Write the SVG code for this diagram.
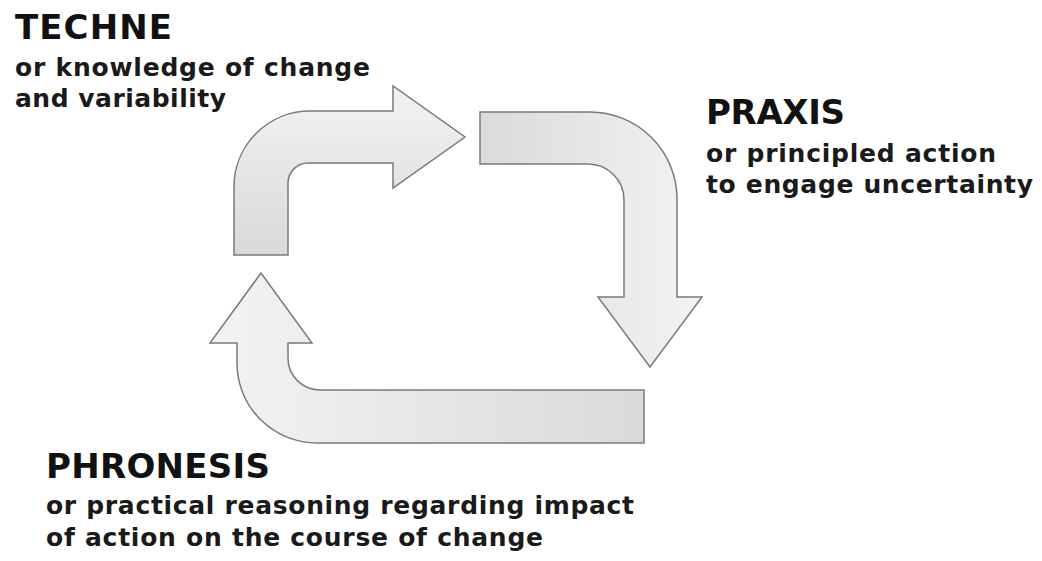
<svg xmlns="http://www.w3.org/2000/svg" width="1042" height="561" viewBox="0 0 1042 561">
<style>
.arrow{stroke:#7a7a7a;stroke-width:1.5;stroke-linejoin:miter}
.title{font-family:"DejaVu Sans","Open Sans",sans-serif;font-weight:700;font-size:34px;fill:#111}
.sub{font-family:"DejaVu Sans","Open Sans",sans-serif;font-weight:700;font-size:25px;fill:#1a1a1a}
</style>
<defs>
<linearGradient id="g1" x1="0" y1="0" x2="0" y2="1"><stop offset="0" stop-color="#f3f3f3"/><stop offset="1" stop-color="#d9d9d9"/></linearGradient>
<linearGradient id="g2" x1="0" y1="0" x2="1" y2="0"><stop offset="0" stop-color="#dadada"/><stop offset="1" stop-color="#f3f3f3"/></linearGradient>
<linearGradient id="g3" x1="0" y1="0" x2="1" y2="0"><stop offset="0" stop-color="#f3f3f3"/><stop offset="1" stop-color="#dadada"/></linearGradient>
</defs>
<g id="connectors">
<path class="arrow" fill="url(#g1)" d="M234,255 L234,187 A76,76 0 0 1 310,111 L393,111 L393,86 L465,137 L393,188 L393,163 L308,163 A20,20 0 0 0 288,183 L288,255 Z"/>
<path class="arrow" fill="url(#g2)" d="M480,112 L590,112 A87,87 0 0 1 677,199 L677,297 L702,297 L650,367 L598,297 L624,297 L624,200 A36,36 0 0 0 588,164 L480,164 Z"/>
<path class="arrow" fill="url(#g3)" d="M644,390 L644,443 L317,443 A80,80 0 0 1 237,363 L237,343 L210,343 L261,273 L312,343 L288,343 L288,358 A32,32 0 0 0 320,390 Z"/>
</g>
<g id="techne">
<text class="title" x="15" y="39" textLength="157" lengthAdjust="spacing">TECHNE</text>
<text class="sub" x="15" y="76" textLength="355" lengthAdjust="spacing">or knowledge of change</text>
<text class="sub" x="15" y="107" textLength="211" lengthAdjust="spacing">and variability</text>
</g>
<g id="praxis">
<text class="title" x="706" y="124" textLength="139" lengthAdjust="spacing">PRAXIS</text>
<text class="sub" x="706" y="162" textLength="290" lengthAdjust="spacing">or principled action</text>
<text class="sub" x="706" y="193" textLength="327" lengthAdjust="spacing">to engage uncertainty</text>
</g>
<g id="phronesis">
<text class="title" x="46" y="478" textLength="224" lengthAdjust="spacing">PHRONESIS</text>
<text class="sub" x="46" y="514" textLength="588" lengthAdjust="spacing">or practical reasoning regarding impact</text>
<text class="sub" x="46" y="546" textLength="497" lengthAdjust="spacing">of action on the course of change</text>
</g>
</svg>
